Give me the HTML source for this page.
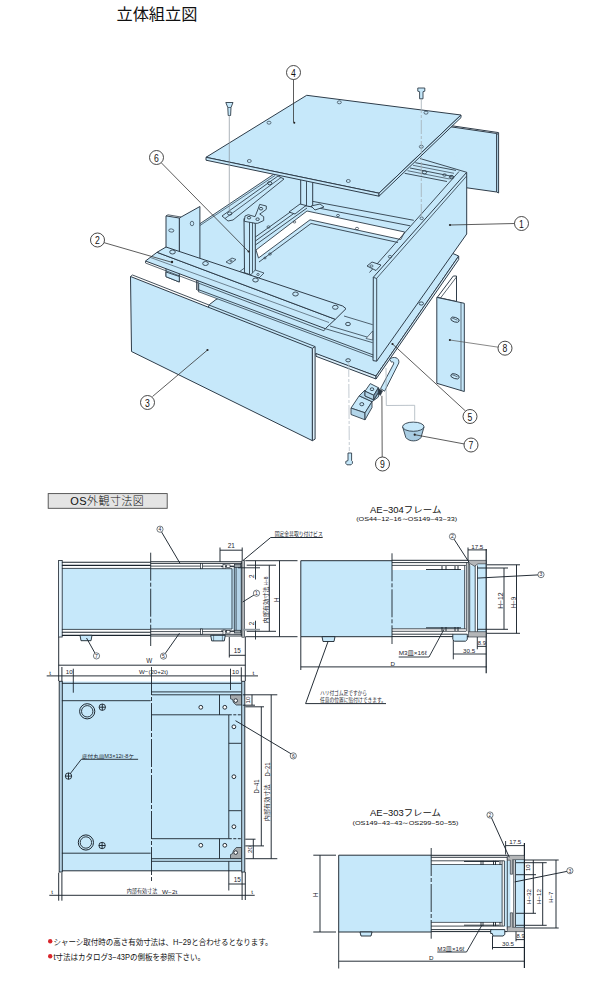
<!DOCTYPE html>
<html><head><meta charset="utf-8"><title>OS</title>
<style>
html,body{margin:0;padding:0;background:#fff}
body{width:600px;height:1000px;overflow:hidden;font-family:"Liberation Sans","Noto Sans CJK JP",sans-serif}
svg{display:block}
svg text{font-family:"Liberation Sans","Noto Sans CJK JP",sans-serif}
</style></head><body>
<svg width="600" height="1000" viewBox="0 0 600 1000">
<rect width="600" height="1000" fill="#fff"/>
<text x="116.5" y="19.5" font-size="16.2" text-anchor="start" fill="#111" >立体組立図</text>
<polygon points="415.0,121.6 496.7,133.5 496.7,192.0 415.0,180.5" fill="#c6e8fa" stroke="#2f3d4a" stroke-width="1.0" stroke-linejoin="round" />
<polygon points="496.7,133.5 498.6,134.6 498.6,193.0 496.7,192.0" fill="#c6e8fa" stroke="#2f3d4a" stroke-width="1.0" stroke-linejoin="round" />
<polyline points="450.0,126.7 452.0,125.8 498.6,132.6 498.6,134.6" fill="none" stroke="#2f3d4a" stroke-width="1.0" stroke-linejoin="round" />
<polygon points="216.0,299.5 300.0,260.0 440.0,248.0 458.7,256.0 376.0,376.0 230.0,323.0 205.0,314.0 209.5,304.5" fill="#c6e8fa" stroke="#2f3d4a" stroke-width="1.0" stroke-linejoin="round" />
<polygon points="316.0,353.5 376.0,376.0 376.0,379.0 316.0,356.3" fill="#dbeef9" stroke="#2f3d4a" stroke-width="1.0" stroke-linejoin="round" />
<polygon points="376.0,376.0 458.7,256.0 458.7,259.5 376.0,379.0" fill="#dbeef9" stroke="#2f3d4a" stroke-width="1.0" stroke-linejoin="round" />
<ellipse cx="421.3" cy="303.5" rx="2.2" ry="1.6" fill="none" stroke="#2f3d4a" stroke-width="0.9"/>
<polygon points="198.0,225.0 274.0,174.0 300.0,165.0 415.0,158.0 450.0,150.0 466.7,172.3 466.7,234.0 376.7,361.2 373.0,360.6 198.0,291.0" fill="#c6e8fa" stroke="none" stroke-width="1.0" stroke-linejoin="round" />
<polygon points="256.0,250.0 307.0,211.0 404.7,232.0 400.7,239.5 310.0,219.8 258.5,258.0" fill="#fff" stroke="#2f3d4a" stroke-width="0.9" stroke-linejoin="round" />
<polyline points="308.0,206.0 410.2,225.8" fill="none" stroke="#2f3d4a" stroke-width="0.9" stroke-linejoin="round" />
<polyline points="308.0,200.5 413.8,220.3" fill="none" stroke="#2f3d4a" stroke-width="0.9" stroke-linejoin="round" />
<polyline points="254.0,246.0 307.0,208.0" fill="none" stroke="#2f3d4a" stroke-width="0.9" stroke-linejoin="round" />
<polyline points="254.0,242.0 307.0,204.0" fill="none" stroke="#2f3d4a" stroke-width="0.9" stroke-linejoin="round" />
<polyline points="254.0,238.0 307.0,200.0" fill="none" stroke="#2f3d4a" stroke-width="0.9" stroke-linejoin="round" />
<polyline points="259.0,262.0 311.0,223.5 398.0,242.5" fill="none" stroke="#2f3d4a" stroke-width="0.9" stroke-linejoin="round" />
<polygon points="300.7,178.0 312.7,181.0 312.7,207.0 300.7,205.0" fill="#c6e8fa" stroke="#2f3d4a" stroke-width="1.0" stroke-linejoin="round" />
<polyline points="306.5,180.0 306.5,206.0" fill="none" stroke="#2f3d4a" stroke-width="0.9" stroke-linejoin="round" />
<polygon points="289.0,212.0 300.0,204.0 306.0,205.5 295.0,214.0" fill="#c6e8fa" stroke="#2f3d4a" stroke-width="0.9" stroke-linejoin="round" />
<polygon points="311.0,206.0 320.0,204.0 324.0,207.0 315.0,210.0" fill="#c6e8fa" stroke="#2f3d4a" stroke-width="0.9" stroke-linejoin="round" />
<polyline points="415.3,162.7 456.0,170.4" fill="none" stroke="#2f3d4a" stroke-width="0.9" stroke-linejoin="round" />
<polyline points="410.0,168.0 452.0,176.3" fill="none" stroke="#2f3d4a" stroke-width="0.9" stroke-linejoin="round" />
<polyline points="404.7,173.3 447.0,181.5" fill="none" stroke="#2f3d4a" stroke-width="0.9" stroke-linejoin="round" />
<polyline points="420.0,158.5 466.7,172.3" fill="none" stroke="#2f3d4a" stroke-width="0.9" stroke-linejoin="round" />
<ellipse cx="424.5" cy="172.3" rx="2.2" ry="1.6" fill="none" stroke="#2f3d4a" stroke-width="0.9"/>
<ellipse cx="451.5" cy="177.3" rx="2.2" ry="1.6" fill="none" stroke="#2f3d4a" stroke-width="0.9"/>
<polyline points="413.0,165.3 454.0,173.3" fill="none" stroke="#2f3d4a" stroke-width="0.7" stroke-linejoin="round" />
<polyline points="407.5,170.7 449.5,179.0" fill="none" stroke="#2f3d4a" stroke-width="0.7" stroke-linejoin="round" />
<polygon points="373.3,277.3 466.7,172.3 466.7,234.0 376.7,361.2 373.0,360.6" fill="#c6e8fa" stroke="#2f3d4a" stroke-width="1.0" stroke-linejoin="round" />
<polyline points="376.7,361.2 376.7,278.5 373.3,277.3" fill="none" stroke="#2f3d4a" stroke-width="0.9" stroke-linejoin="round" />
<polyline points="376.5,278.5 466.7,176.0" fill="none" stroke="#2f3d4a" stroke-width="0.8" stroke-linejoin="round" />
<polyline points="459.0,171.5 369.5,272.5" fill="none" stroke="#2f3d4a" stroke-width="0.9" stroke-linejoin="round" />
<polygon points="367.0,266.0 372.0,262.0 381.0,265.0 376.0,270.5" fill="#c6e8fa" stroke="#2f3d4a" stroke-width="0.9" stroke-linejoin="round" />
<ellipse cx="371.5" cy="266.0" rx="1.6" ry="1.1" fill="none" stroke="#2f3d4a" stroke-width="0.7"/>
<ellipse cx="451.7" cy="176.7" rx="1.7" ry="1.3" fill="none" stroke="#2f3d4a" stroke-width="0.7"/>
<ellipse cx="421.7" cy="218.3" rx="1.7" ry="1.3" fill="none" stroke="#2f3d4a" stroke-width="0.7"/>
<ellipse cx="390.0" cy="256.7" rx="1.7" ry="1.3" fill="none" stroke="#2f3d4a" stroke-width="0.7"/>
<ellipse cx="444.5" cy="175.0" rx="1.7" ry="1.3" fill="none" stroke="#2f3d4a" stroke-width="0.7"/>
<circle cx="450.0" cy="225.0" r="1.1" fill="#222" stroke="none" stroke-width="0.8"/>
<polyline points="450.0,225.0 515.0,223.5" fill="none" stroke="#333" stroke-width="0.8" stroke-linejoin="round" />
<polyline points="198.0,289.5 373.3,355.0" fill="none" stroke="#2f3d4a" stroke-width="0.9" stroke-linejoin="round" />
<polyline points="198.0,291.5 373.3,357.2" fill="none" stroke="#2f3d4a" stroke-width="0.8" stroke-linejoin="round" />
<polyline points="344.0,316.0 372.7,324.7" fill="none" stroke="#2f3d4a" stroke-width="0.8" stroke-linejoin="round" />
<polyline points="330.0,326.0 372.7,338.7" fill="none" stroke="#2f3d4a" stroke-width="0.8" stroke-linejoin="round" />
<polyline points="325.3,328.7 372.7,342.7" fill="none" stroke="#2f3d4a" stroke-width="0.8" stroke-linejoin="round" />
<ellipse cx="348.0" cy="324.0" rx="2.4" ry="1.7" fill="none" stroke="#2f3d4a" stroke-width="0.9"/>
<polygon points="366.0,338.5 372.7,331.0 372.7,340.0" fill="#dbeef9" stroke="#2f3d4a" stroke-width="0.7" stroke-linejoin="round" />
<polyline points="198.0,291.0 198.0,225.0 274.0,174.0" fill="none" stroke="#2f3d4a" stroke-width="0.9" stroke-linejoin="round" />
<polyline points="199.5,225.8 275.0,175.5" fill="none" stroke="#2f3d4a" stroke-width="0.7" stroke-linejoin="round" />
<polyline points="196.6,290.0 196.6,226.0" fill="none" stroke="#2f3d4a" stroke-width="0.9" stroke-linejoin="round" />
<polygon points="222.0,216.0 278.0,176.0 284.0,179.0 233.0,220.0 228.0,221.0" fill="#c6e8fa" stroke="#2f3d4a" stroke-width="0.9" stroke-linejoin="round" />
<polyline points="225.0,218.5 281.0,177.5" fill="none" stroke="#2f3d4a" stroke-width="0.8" stroke-linejoin="round" />
<ellipse cx="229.7" cy="213.5" rx="2.2" ry="1.6" fill="none" stroke="#2f3d4a" stroke-width="0.9"/>
<ellipse cx="269.7" cy="183.2" rx="2.2" ry="1.6" fill="none" stroke="#2f3d4a" stroke-width="0.9"/>
<polygon points="244.0,218.5 249.5,220.5 255.3,223.3 255.3,275.3 249.5,274.5 244.5,272.7" fill="#c6e8fa" stroke="#2f3d4a" stroke-width="1.0" stroke-linejoin="round" />
<polyline points="249.5,220.5 249.5,274.5" fill="none" stroke="#2f3d4a" stroke-width="0.9" stroke-linejoin="round" />
<polyline points="252.5,222.0 252.5,275.0" fill="none" stroke="#2f3d4a" stroke-width="0.8" stroke-linejoin="round" />
<polygon points="244.3,221.3 245.0,216.0 248.3,214.7 255.0,216.7 257.7,210.0 259.7,204.4 266.3,206.0 266.3,209.3 261.7,212.7 259.7,214.0 263.7,216.7 263.7,220.5 257.7,223.3 255.3,223.3" fill="#c6e8fa" stroke="#2f3d4a" stroke-width="0.9" stroke-linejoin="round" />
<ellipse cx="249.0" cy="217.7" rx="1.7" ry="1.3" fill="none" stroke="#2f3d4a" stroke-width="0.9"/>
<ellipse cx="261.0" cy="208.7" rx="1.7" ry="1.3" fill="none" stroke="#2f3d4a" stroke-width="0.9"/>
<ellipse cx="257.6" cy="219.2" rx="1.7" ry="1.3" fill="none" stroke="#2f3d4a" stroke-width="0.9"/>
<polygon points="239.0,272.0 244.5,268.0 244.5,272.7" fill="#c6e8fa" stroke="#2f3d4a" stroke-width="0.8" stroke-linejoin="round" />
<polygon points="255.3,270.0 264.0,273.0 259.0,278.0 250.0,275.5" fill="#c6e8fa" stroke="#2f3d4a" stroke-width="0.8" stroke-linejoin="round" />
<ellipse cx="258.0" cy="274.5" rx="1.3" ry="1" fill="none" stroke="#2f3d4a" stroke-width="0.7"/>
<polygon points="226.0,262.0 232.0,258.0 236.0,259.5 230.0,264.0" fill="#c6e8fa" stroke="#2f3d4a" stroke-width="0.8" stroke-linejoin="round" />
<ellipse cx="231.0" cy="261.0" rx="1.2" ry="0.9" fill="none" stroke="#2f3d4a" stroke-width="0.7"/>
<ellipse cx="270.0" cy="254.0" rx="1.4" ry="1.1" fill="none" stroke="#2f3d4a" stroke-width="0.7"/>
<ellipse cx="265.0" cy="258.0" rx="1.2" ry="0.9" fill="none" stroke="#2f3d4a" stroke-width="0.7"/>
<ellipse cx="268.5" cy="227.0" rx="1.5" ry="1.2" fill="none" stroke="#2f3d4a" stroke-width="0.7"/>
<ellipse cx="357.0" cy="228.5" rx="1.6" ry="1.2" fill="none" stroke="#2f3d4a" stroke-width="0.7"/>
<ellipse cx="338.0" cy="215.5" rx="1.5" ry="1.1" fill="none" stroke="#2f3d4a" stroke-width="0.7"/>
<ellipse cx="294.5" cy="222.0" rx="1.3" ry="1" fill="none" stroke="#2f3d4a" stroke-width="0.7"/>
<circle cx="248.5" cy="251.5" r="1.0" fill="#222" stroke="none" stroke-width="0.8"/>
<polygon points="179.3,218.0 199.9,206.5 199.9,262.0 179.3,256.0" fill="#c6e8fa" stroke="#2f3d4a" stroke-width="1.0" stroke-linejoin="round" />
<polygon points="166.0,215.9 179.3,218.0 179.3,282.0 166.0,276.7" fill="#c6e8fa" stroke="#2f3d4a" stroke-width="1.0" stroke-linejoin="round" />
<polyline points="166.0,215.9 168.0,214.8 181.0,217.0" fill="none" stroke="#2f3d4a" stroke-width="0.8" stroke-linejoin="round" />
<ellipse cx="171.3" cy="230.5" rx="2.6" ry="1.6" fill="none" stroke="#2f3d4a" stroke-width="0.7" transform="rotate(8 171.3 230.5)"/>
<ellipse cx="172.5" cy="251.5" rx="2.8" ry="2.0" fill="none" stroke="#2f3d4a" stroke-width="0.7" transform="rotate(20 172.5 251.5)"/>
<ellipse cx="192.0" cy="223.5" rx="1.7" ry="2.3" fill="none" stroke="#2f3d4a" stroke-width="0.7"/>
<polygon points="145.5,261.0 157.0,252.3 335.3,319.3 325.3,328.7" fill="#c6e8fa" stroke="#2f3d4a" stroke-width="1.0" stroke-linejoin="round" />
<polygon points="157.0,252.3 166.0,247.0 342.7,306.0 346.0,308.7 335.3,319.3" fill="#c6e8fa" stroke="#2f3d4a" stroke-width="1.0" stroke-linejoin="round" />
<polyline points="145.5,261.0 145.5,263.0 324.0,330.8 325.3,328.7" fill="none" stroke="#2f3d4a" stroke-width="0.8" stroke-linejoin="round" />
<polyline points="150.5,257.5 329.0,322.5" fill="none" stroke="#2f3d4a" stroke-width="0.6" stroke-linejoin="round" />
<ellipse cx="172.5" cy="252.0" rx="2.8" ry="2.0" fill="none" stroke="#2f3d4a" stroke-width="0.9"/>
<ellipse cx="205.5" cy="263.5" rx="2.8" ry="2.0" fill="none" stroke="#2f3d4a" stroke-width="0.9"/>
<ellipse cx="255.5" cy="280.0" rx="2.8" ry="2.0" fill="none" stroke="#2f3d4a" stroke-width="0.9"/>
<ellipse cx="295.5" cy="294.0" rx="2.8" ry="2.0" fill="none" stroke="#2f3d4a" stroke-width="0.9"/>
<ellipse cx="335.3" cy="307.3" rx="2.8" ry="2.0" fill="none" stroke="#2f3d4a" stroke-width="0.9"/>
<circle cx="172.0" cy="262.0" r="1.2" fill="#222" stroke="none" stroke-width="0.8"/>
<polyline points="198.7,284.0 198.7,291.5" fill="none" stroke="#2f3d4a" stroke-width="0.9" stroke-linejoin="round" />
<polygon points="166.0,272.0 179.3,276.5 179.3,282.0 166.0,276.7" fill="#c6e8fa" stroke="#2f3d4a" stroke-width="0.9" stroke-linejoin="round" />
<polygon points="206.0,157.3 306.7,95.3 461.0,115.0 379.0,193.2" fill="#c6e8fa" stroke="#2f3d4a" stroke-width="1.0" stroke-linejoin="round" />
<polygon points="206.0,157.3 379.0,193.2 379.0,196.2 206.0,160.2" fill="#c6e8fa" stroke="#2f3d4a" stroke-width="1.0" stroke-linejoin="round" />
<polygon points="379.0,193.2 461.0,115.0 461.0,117.6 379.0,196.2" fill="#c6e8fa" stroke="#2f3d4a" stroke-width="1.0" stroke-linejoin="round" />
<ellipse cx="339.3" cy="102.3" rx="2.0" ry="1.5" fill="none" stroke="#2f3d4a" stroke-width="0.7"/>
<ellipse cx="269.0" cy="122.7" rx="2.0" ry="1.5" fill="none" stroke="#2f3d4a" stroke-width="0.7"/>
<ellipse cx="249.3" cy="161.0" rx="2.0" ry="1.5" fill="none" stroke="#2f3d4a" stroke-width="0.7"/>
<ellipse cx="348.3" cy="181.0" rx="2.0" ry="1.5" fill="none" stroke="#2f3d4a" stroke-width="0.7"/>
<ellipse cx="426.0" cy="112.7" rx="2.0" ry="1.5" fill="none" stroke="#2f3d4a" stroke-width="0.7"/>
<ellipse cx="421.3" cy="146.7" rx="2.0" ry="1.5" fill="none" stroke="#2f3d4a" stroke-width="0.7"/>
<circle cx="294.3" cy="122.7" r="1.0" fill="#222" stroke="none" stroke-width="0.8"/>
<polygon points="130.5,276.5 312.4,348.3 312.4,440.7 131.5,351.5" fill="#c6e8fa" stroke="#2f3d4a" stroke-width="1.0" stroke-linejoin="round" />
<polygon points="312.4,348.3 315.1,346.6 315.1,439.1 312.4,440.7" fill="#dbeef9" stroke="#2f3d4a" stroke-width="1.0" stroke-linejoin="round" />
<polyline points="130.5,276.5 132.5,275.0 315.1,346.6" fill="none" stroke="#2f3d4a" stroke-width="0.9" stroke-linejoin="round" />
<circle cx="207.5" cy="350.0" r="1.1" fill="#222" stroke="none" stroke-width="0.8"/>
<polygon points="437.3,297.3 453.3,276.0 456.5,276.0 456.5,301.5" fill="#fff" stroke="#2f3d4a" stroke-width="1.0" stroke-linejoin="round" />
<polyline points="440.5,298.0 456.5,277.0" fill="none" stroke="#2f3d4a" stroke-width="0.8" stroke-linejoin="round" />
<polygon points="436.8,297.4 464.3,303.3 464.3,391.5 436.8,383.3" fill="#c6e8fa" stroke="#2f3d4a" stroke-width="1.0" stroke-linejoin="round" />
<polyline points="461.0,302.8 461.0,390.5" fill="none" stroke="#2f3d4a" stroke-width="0.7" stroke-linejoin="round" />
<ellipse cx="455.0" cy="319.7" rx="4.4" ry="2.3" fill="none" stroke="#2f3d4a" stroke-width="0.9" transform="rotate(18 455.0 319.7)"/>
<ellipse cx="455.0" cy="376.3" rx="4.4" ry="2.3" fill="none" stroke="#2f3d4a" stroke-width="0.9" transform="rotate(18 455.0 376.3)"/>
<polyline points="452.0,318.0 457.5,320.2" fill="none" stroke="#2f3d4a" stroke-width="0.7" stroke-linejoin="round" />
<polyline points="452.0,374.6 457.5,376.8" fill="none" stroke="#2f3d4a" stroke-width="0.7" stroke-linejoin="round" />
<circle cx="449.9" cy="340.0" r="1.1" fill="#222" stroke="none" stroke-width="0.8"/>
<polyline points="449.9,340.0 498.3,347.2" fill="none" stroke="#555" stroke-width="0.7" stroke-linejoin="round" />
<path d="M389.5,359.2 C393.5,355.8 399.8,357.5 398.8,363 L384.6,391.2 L380.6,388.6 L393.6,364 C394.2,362.2 393,361.3 391.5,362.2 Z" fill="#c6e8fa" stroke="#2f3d4a" stroke-width="0.9"/>
<polygon points="351.0,408.1 359.2,395.8 372.0,401.7 365.0,412.8" fill="#c6e8fa" stroke="#2f3d4a" stroke-width="0.9" stroke-linejoin="round" />
<polygon points="351.0,408.1 365.0,412.8 365.0,419.8 351.0,414.5" fill="#b3d6ea" stroke="#2f3d4a" stroke-width="0.9" stroke-linejoin="round" />
<polygon points="365.0,412.8 372.0,401.7 372.0,407.5 365.0,419.8" fill="#b3d6ea" stroke="#2f3d4a" stroke-width="0.9" stroke-linejoin="round" />
<polygon points="359.2,395.8 365.0,390.0 365.0,396.0 373.8,399.8 378.4,392.5 378.4,397.0 372.0,401.7" fill="#b3d6ea" stroke="#2f3d4a" stroke-width="0.9" stroke-linejoin="round" />
<polygon points="365.0,391.2 370.3,383.6 378.4,387.7 373.8,395.3" fill="#c6e8fa" stroke="#2f3d4a" stroke-width="0.9" stroke-linejoin="round" />
<polygon points="365.0,391.2 373.8,395.3 373.8,399.8 365.0,396.0" fill="#b3d6ea" stroke="#2f3d4a" stroke-width="0.9" stroke-linejoin="round" />
<polygon points="373.8,395.3 378.4,387.7 378.4,392.5 373.8,399.8" fill="#7d9cb2" stroke="#2f3d4a" stroke-width="0.9" stroke-linejoin="round" />
<polygon points="378.6,388.5 382.6,391.0 380.3,395.5 378.4,394.0" fill="#2b3843" stroke="#2f3d4a" stroke-width="0.6" stroke-linejoin="round" />
<ellipse cx="361.8" cy="404.2" rx="2.0" ry="1.6" fill="none" stroke="#2f3d4a" stroke-width="0.9"/>
<ellipse cx="372.0" cy="389.2" rx="1.8" ry="1.4" fill="none" stroke="#2f3d4a" stroke-width="0.9"/>
<polyline points="348.7,363.0 349.3,451.0" fill="none" stroke="#b4bec6" stroke-width="0.8" stroke-linejoin="round" stroke-dasharray="14 2 3 2"/>
<polygon points="348.0,453.0 351.6,453.0 351.6,460.6 352.4,461.4 352.4,463.4 351.0,464.8 347.0,464.8 345.8,463.4 345.8,461.4 348.0,460.6" fill="#c6e8fa" stroke="#2f3d4a" stroke-width="0.9" stroke-linejoin="round" />
<ellipse cx="348.1" cy="360.3" rx="2.3" ry="1.6" fill="none" stroke="#2f3d4a" stroke-width="0.9"/>
<path d="M402.7,427 L405.8,437.5 C409,442 418,442 421,437.5 L424,427 Z" fill="#a9cde3" stroke="#2f3d4a" stroke-width="0.9"/>
<ellipse cx="413.3" cy="426.7" rx="10.7" ry="4.6" fill="#c6e8fa" stroke="#2f3d4a" stroke-width="0.9"/>
<circle cx="414.7" cy="434.7" r="1.1" fill="#222" stroke="none" stroke-width="0.8"/>
<polyline points="386.0,368.0 386.3,405.5 414.7,405.3 414.7,420.5" fill="none" stroke="#a9b4bd" stroke-width="0.8" stroke-linejoin="round" />
<polyline points="414.7,434.7 464.5,444.0" fill="none" stroke="#333" stroke-width="0.8" stroke-linejoin="round" />
<polygon points="225.8,102.5 233.0,102.5 231.0,107.5 230.6,115.5 228.2,115.5 227.8,107.5" fill="#c6e8fa" stroke="#2f3d4a" stroke-width="0.9" stroke-linejoin="round" />
<polyline points="227.8,107.5 231.0,107.5" fill="none" stroke="#2f3d4a" stroke-width="0.7" stroke-linejoin="round" />
<polyline points="229.3,115.0 229.3,212.0" fill="none" stroke="#8a949c" stroke-width="0.7" stroke-linejoin="round" />
<polygon points="417.8,88.0 424.8,88.0 424.8,91.2 423.0,91.7 423.0,98.8 419.6,98.8 419.6,91.7 417.8,91.2" fill="#c6e8fa" stroke="#2f3d4a" stroke-width="0.9" stroke-linejoin="round" />
<polyline points="421.3,99.0 421.3,217.0" fill="none" stroke="#a3aeb7" stroke-width="0.8" stroke-linejoin="round" stroke-dasharray="14 2 3 2"/>
<polyline points="293.5,79.0 293.5,122.5" fill="none" stroke="#333" stroke-width="0.8" stroke-linejoin="round" />
<polyline points="161.0,162.5 248.5,251.5" fill="none" stroke="#333" stroke-width="0.8" stroke-linejoin="round" />
<polyline points="103.5,242.5 172.5,262.5" fill="none" stroke="#333" stroke-width="0.8" stroke-linejoin="round" />
<polyline points="152.5,396.5 207.5,350.0" fill="none" stroke="#333" stroke-width="0.8" stroke-linejoin="round" />
<circle cx="392.5" cy="344.0" r="1.1" fill="#222" stroke="none" stroke-width="0.8"/>
<polyline points="392.5,344.0 465.5,411.0" fill="none" stroke="#333" stroke-width="0.8" stroke-linejoin="round" />
<polyline points="382.2,457.0 381.9,395.8" fill="none" stroke="#333" stroke-width="0.8" stroke-linejoin="round" />
<circle cx="293.5" cy="72.5" r="7" fill="#fff" stroke="#333" stroke-width="0.9"/>
<text x="293.5" y="76.5" font-size="11" text-anchor="middle" fill="#111" textLength="4.8" lengthAdjust="spacingAndGlyphs">4</text>
<circle cx="156.5" cy="157.5" r="7" fill="#fff" stroke="#333" stroke-width="0.9"/>
<text x="156.5" y="161.5" font-size="11" text-anchor="middle" fill="#111" textLength="4.8" lengthAdjust="spacingAndGlyphs">6</text>
<circle cx="97.5" cy="240.0" r="7" fill="#fff" stroke="#333" stroke-width="0.9"/>
<text x="97.5" y="244.0" font-size="11" text-anchor="middle" fill="#111" textLength="4.8" lengthAdjust="spacingAndGlyphs">2</text>
<circle cx="147.5" cy="402.5" r="7" fill="#fff" stroke="#333" stroke-width="0.9"/>
<text x="147.5" y="406.5" font-size="11" text-anchor="middle" fill="#111" textLength="4.8" lengthAdjust="spacingAndGlyphs">3</text>
<circle cx="521.5" cy="223.5" r="7" fill="#fff" stroke="#333" stroke-width="0.9"/>
<text x="521.5" y="227.5" font-size="11" text-anchor="middle" fill="#111" textLength="4.8" lengthAdjust="spacingAndGlyphs">1</text>
<circle cx="505.0" cy="348.2" r="7" fill="#fff" stroke="#333" stroke-width="0.9"/>
<text x="505.0" y="352.2" font-size="11" text-anchor="middle" fill="#111" textLength="4.8" lengthAdjust="spacingAndGlyphs">8</text>
<circle cx="470.0" cy="416.5" r="7" fill="#fff" stroke="#333" stroke-width="0.9"/>
<text x="470.0" y="420.5" font-size="11" text-anchor="middle" fill="#111" textLength="4.8" lengthAdjust="spacingAndGlyphs">5</text>
<circle cx="471.0" cy="445.0" r="7" fill="#fff" stroke="#333" stroke-width="0.9"/>
<text x="471.0" y="449.0" font-size="11" text-anchor="middle" fill="#111" textLength="4.8" lengthAdjust="spacingAndGlyphs">7</text>
<circle cx="382.5" cy="464.0" r="7" fill="#fff" stroke="#333" stroke-width="0.9"/>
<text x="382.5" y="468.0" font-size="11" text-anchor="middle" fill="#111" textLength="4.8" lengthAdjust="spacingAndGlyphs">9</text>
<rect x="48.2" y="493.6" width="119.0" height="14.7" fill="#e4e4e4" stroke="#4a4a4a" stroke-width="0.9"/>
<text x="107.0" y="505.0" font-size="11" text-anchor="middle" fill="#111" textLength="73.5" lengthAdjust="spacing" font-weight="300">OS外観寸法図</text>
<rect x="61.9" y="568.4" width="172.8" height="61.0" fill="#c6e8fa" stroke="none" stroke-width="0.8"/>
<rect x="234.3" y="566.0" width="7.0" height="66.0" fill="#b4d4e8" stroke="none" stroke-width="0.8"/>
<rect x="58.6" y="560.4" width="3.6" height="76.6" fill="#e2f1fa" stroke="#1a242d" stroke-width="0.8"/>
<rect x="241.9" y="560.4" width="2.6" height="76.8" fill="#b4b8bb" stroke="#1a242d" stroke-width="0.6"/>
<polyline points="61.9,562.3 150.7,562.3" fill="none" stroke="#1a242d" stroke-width="1.1" stroke-linejoin="round" />
<polyline points="61.9,565.4 150.7,565.4" fill="none" stroke="#1a242d" stroke-width="1.1" stroke-linejoin="round" />
<polyline points="61.9,568.4 150.7,568.4" fill="none" stroke="#1a242d" stroke-width="0.8" stroke-linejoin="round" />
<polyline points="61.9,635.4 150.7,635.4" fill="none" stroke="#1a242d" stroke-width="1.1" stroke-linejoin="round" />
<polyline points="61.9,632.3 150.7,632.3" fill="none" stroke="#1a242d" stroke-width="1.1" stroke-linejoin="round" />
<polyline points="61.9,629.4 150.7,629.4" fill="none" stroke="#1a242d" stroke-width="0.8" stroke-linejoin="round" />
<polyline points="150.7,561.7 241.9,561.7" fill="none" stroke="#1a242d" stroke-width="0.9" stroke-linejoin="round" />
<polyline points="150.7,563.4 241.9,563.4" fill="none" stroke="#1a242d" stroke-width="0.9" stroke-linejoin="round" />
<polyline points="150.7,566.1 241.3,566.1" fill="none" stroke="#1a242d" stroke-width="0.8" stroke-linejoin="round" />
<polyline points="150.7,568.7 232.0,568.7" fill="none" stroke="#1a242d" stroke-width="0.8" stroke-linejoin="round" />
<polyline points="150.7,636.0 241.9,636.0" fill="none" stroke="#1a242d" stroke-width="0.9" stroke-linejoin="round" />
<polyline points="150.7,634.3 241.9,634.3" fill="none" stroke="#1a242d" stroke-width="0.9" stroke-linejoin="round" />
<polyline points="150.7,631.6 241.3,631.6" fill="none" stroke="#1a242d" stroke-width="0.8" stroke-linejoin="round" />
<polyline points="150.7,629.0 232.0,629.0" fill="none" stroke="#1a242d" stroke-width="0.8" stroke-linejoin="round" />
<polyline points="232.0,568.7 232.0,629.0" fill="none" stroke="#1a242d" stroke-width="0.8" stroke-linejoin="round" />
<polyline points="234.3,566.1 234.3,631.6" fill="none" stroke="#1a242d" stroke-width="0.8" stroke-linejoin="round" />
<polyline points="236.1,566.1 236.1,631.6" fill="none" stroke="#1a242d" stroke-width="0.7" stroke-linejoin="round" />
<polyline points="241.3,561.7 241.3,636.0" fill="none" stroke="#1a242d" stroke-width="0.8" stroke-linejoin="round" />
<rect x="200.5" y="563.4" width="1.9" height="5.3" fill="#fff" stroke="#1a242d" stroke-width="0.7"/>
<polyline points="221.0,566.6 241.0,566.6" fill="none" stroke="#1a242d" stroke-width="0.9" stroke-linejoin="round" />
<rect x="223.0" y="564.4" width="2.2" height="4.3" fill="#fff" stroke="#1a242d" stroke-width="0.6"/>
<rect x="226.5" y="564.9" width="3.5" height="2.6" fill="#fff" stroke="#1a242d" stroke-width="0.6"/>
<rect x="234.3" y="564.6" width="6.5" height="2.8" fill="#9aa3a8" stroke="#1a242d" stroke-width="0.6"/>
<rect x="200.5" y="629.0" width="1.9" height="5.3" fill="#fff" stroke="#1a242d" stroke-width="0.7"/>
<polyline points="221.0,631.0 241.0,631.0" fill="none" stroke="#1a242d" stroke-width="0.9" stroke-linejoin="round" />
<rect x="223.0" y="630.0" width="2.2" height="4.3" fill="#fff" stroke="#1a242d" stroke-width="0.6"/>
<rect x="226.5" y="630.5" width="3.5" height="2.6" fill="#fff" stroke="#1a242d" stroke-width="0.6"/>
<rect x="234.3" y="630.2" width="6.5" height="2.8" fill="#9aa3a8" stroke="#1a242d" stroke-width="0.6"/>
<polygon points="80.0,635.3 92.0,635.3 91.0,640.7 81.0,640.7" fill="#c6e8fa" stroke="#1a242d" stroke-width="0.9" stroke-linejoin="round" />
<polygon points="210.7,635.3 225.3,635.3 224.3,640.9 211.7,640.9" fill="#c6e8fa" stroke="#1a242d" stroke-width="0.9" stroke-linejoin="round" />
<polyline points="213.6,635.3 213.6,640.9" fill="none" stroke="#1a242d" stroke-width="0.5" stroke-linejoin="round" />
<polyline points="222.4,635.3 222.4,640.9" fill="none" stroke="#1a242d" stroke-width="0.5" stroke-linejoin="round" />
<polyline points="150.7,552.7 150.7,646.0" fill="none" stroke="#1a242d" stroke-width="0.9" stroke-linejoin="round" stroke-dasharray="28 2 4 2"/>
<polyline points="220.0,547.5 220.0,562.0" fill="none" stroke="#1a242d" stroke-width="0.95" stroke-linejoin="round" />
<polyline points="242.2,547.5 242.2,560.0" fill="none" stroke="#1a242d" stroke-width="0.95" stroke-linejoin="round" />
<polyline points="220.0,550.2 242.2,550.2" fill="none" stroke="#1a242d" stroke-width="0.95" stroke-linejoin="round" />
<text x="231.2" y="548.2" font-size="6.4" text-anchor="middle" fill="#1a242d" >21</text>
<polyline points="229.3,637.0 229.3,657.5" fill="none" stroke="#1a242d" stroke-width="0.95" stroke-linejoin="round" />
<polyline points="245.3,637.0 245.3,667.0" fill="none" stroke="#1a242d" stroke-width="0.95" stroke-linejoin="round" />
<polyline points="229.3,655.3 245.3,655.3" fill="none" stroke="#1a242d" stroke-width="0.95" stroke-linejoin="round" />
<text x="237.3" y="653.4" font-size="6.4" text-anchor="middle" fill="#1a242d" >15</text>
<polyline points="243.0,560.5 270.7,537.5 322.7,537.5" fill="none" stroke="#1a242d" stroke-width="0.95" stroke-linejoin="round" />
<text x="274.7" y="536.4" font-size="5.4" text-anchor="start" fill="#1a242d" textLength="48" lengthAdjust="spacingAndGlyphs">固定金具取り付けビス</text>
<polyline points="245.3,560.7 297.5,560.7" fill="none" stroke="#1a242d" stroke-width="0.95" stroke-linejoin="round" />
<polyline points="245.3,636.7 297.5,636.7" fill="none" stroke="#1a242d" stroke-width="0.95" stroke-linejoin="round" />
<polyline points="279.5,560.7 279.5,636.7" fill="none" stroke="#1a242d" stroke-width="0.95" stroke-linejoin="round" />
<text x="278.8" y="599.7" font-size="6.3" text-anchor="middle" fill="#1a242d" transform="rotate(-90 278.8 599.7)" >H</text>
<polyline points="246.7,565.2 276.0,565.2" fill="none" stroke="#1a242d" stroke-width="0.95" stroke-linejoin="round" />
<polyline points="246.7,631.3 276.0,631.3" fill="none" stroke="#1a242d" stroke-width="0.95" stroke-linejoin="round" />
<polyline points="269.3,565.2 269.3,631.3" fill="none" stroke="#1a242d" stroke-width="0.95" stroke-linejoin="round" />
<text x="268.3" y="605.0" font-size="6" text-anchor="middle" fill="#1a242d" transform="rotate(-90 268.3 605.0)" textLength="37" lengthAdjust="spacingAndGlyphs">内部有効寸法</text>
<text x="268.3" y="581.0" font-size="6" text-anchor="middle" fill="#1a242d" transform="rotate(-90 268.3 581.0)" textLength="9" lengthAdjust="spacingAndGlyphs">H−8</text>
<polyline points="255.5,560.7 255.5,579.5" fill="none" stroke="#1a242d" stroke-width="0.9" stroke-linejoin="round" />
<polyline points="255.5,620.7 255.5,639.5" fill="none" stroke="#1a242d" stroke-width="0.9" stroke-linejoin="round" />
<polyline points="238.0,567.8 260.0,567.8" fill="none" stroke="#1a242d" stroke-width="0.9" stroke-linejoin="round" />
<polyline points="242.7,629.7 260.0,629.7" fill="none" stroke="#8e989f" stroke-width="1.8" stroke-linejoin="round" />
<text x="253.6" y="576.2" font-size="6.3" text-anchor="middle" fill="#1a242d" transform="rotate(-90 253.6 576.2)" >2</text>
<text x="253.6" y="623.5" font-size="6.3" text-anchor="middle" fill="#1a242d" transform="rotate(-90 253.6 623.5)" >2</text>
<polyline points="242.7,602.0 254.3,594.8" fill="none" stroke="#1a242d" stroke-width="0.9" stroke-linejoin="round" />
<circle cx="256.5" cy="593.2" r="3.1" fill="#fff" stroke="#3a444c" stroke-width="0.7"/>
<text x="256.5" y="595.0" font-size="5" text-anchor="middle" fill="#1a242d" >1</text>
<polyline points="161.3,531.6 180.0,563.3" fill="none" stroke="#1a242d" stroke-width="0.95" stroke-linejoin="round" />
<circle cx="160.0" cy="529.2" r="3.1" fill="#fff" stroke="#3a444c" stroke-width="0.7"/>
<text x="160.0" y="531.0" font-size="5" text-anchor="middle" fill="#1a242d" >4</text>
<polyline points="165.0,653.8 179.5,633.2" fill="none" stroke="#1a242d" stroke-width="0.95" stroke-linejoin="round" />
<circle cx="163.5" cy="656.1" r="3.1" fill="#fff" stroke="#3a444c" stroke-width="0.7"/>
<text x="163.5" y="657.9" font-size="5" text-anchor="middle" fill="#1a242d" >5</text>
<polyline points="86.5,638.0 95.2,653.5" fill="none" stroke="#1a242d" stroke-width="0.95" stroke-linejoin="round" />
<circle cx="96.5" cy="655.9" r="3.1" fill="#fff" stroke="#3a444c" stroke-width="0.7"/>
<text x="96.5" y="657.7" font-size="5" text-anchor="middle" fill="#1a242d" >7</text>
<polyline points="58.7,637.0 58.7,681.0" fill="none" stroke="#1a242d" stroke-width="0.95" stroke-linejoin="round" />
<polyline points="61.9,667.0 61.9,681.0" fill="none" stroke="#1a242d" stroke-width="0.95" stroke-linejoin="round" />
<polyline points="58.7,665.2 245.3,665.2" fill="none" stroke="#1a242d" stroke-width="0.95" stroke-linejoin="round" />
<text x="149.3" y="663.4" font-size="6.3" text-anchor="middle" fill="#1a242d" >W</text>
<polyline points="46.7,675.9 258.0,675.9" fill="none" stroke="#1a242d" stroke-width="0.95" stroke-linejoin="round" />
<text x="153.5" y="674.2" font-size="6.2" text-anchor="middle" fill="#1a242d" textLength="29" lengthAdjust="spacingAndGlyphs">W−(20+2t)</text>
<text x="50.0" y="675.2" font-size="6.2" text-anchor="middle" fill="#1a242d" >t</text>
<text x="253.3" y="674.5" font-size="6.2" text-anchor="middle" fill="#1a242d" >t</text>
<text x="69.3" y="673.8" font-size="6.2" text-anchor="middle" fill="#1a242d" >10</text>
<text x="235.5" y="673.8" font-size="6.2" text-anchor="middle" fill="#1a242d" >10</text>
<polyline points="241.3,667.3 241.3,681.0" fill="none" stroke="#1a242d" stroke-width="0.95" stroke-linejoin="round" />
<polyline points="245.3,667.0 245.3,681.0" fill="none" stroke="#1a242d" stroke-width="0.95" stroke-linejoin="round" />
<rect x="61.9" y="681.5" width="89.6" height="189.3" fill="#c6e8fa" stroke="none" stroke-width="0.8"/>
<rect x="151.5" y="681.5" width="89.8" height="189.3" fill="#c6e8fa" stroke="none" stroke-width="0.8"/>
<rect x="59.2" y="681.3" width="3.1" height="190.7" fill="#b4d0e2" stroke="#1a242d" stroke-width="0.9"/>
<rect x="241.7" y="681.3" width="3.1" height="190.7" fill="#b4d0e2" stroke="#1a242d" stroke-width="0.9"/>
<polyline points="61.9,683.3 241.3,683.3" fill="none" stroke="#1a242d" stroke-width="0.95" stroke-linejoin="round" />
<polyline points="61.9,870.8 241.3,870.8" fill="none" stroke="#1a242d" stroke-width="0.95" stroke-linejoin="round" />
<polyline points="61.9,700.7 150.7,700.7" fill="none" stroke="#1a242d" stroke-width="0.9" stroke-linejoin="round" />
<polyline points="61.9,853.2 150.7,853.2" fill="none" stroke="#1a242d" stroke-width="0.9" stroke-linejoin="round" />
<polyline points="151.5,691.9 241.3,691.9" fill="none" stroke="#1a242d" stroke-width="0.9" stroke-linejoin="round" />
<polyline points="151.5,694.8 241.3,694.8" fill="none" stroke="#1a242d" stroke-width="0.9" stroke-linejoin="round" />
<polyline points="151.5,714.8 228.8,714.8" fill="none" stroke="#1a242d" stroke-width="0.9" stroke-linejoin="round" />
<polyline points="151.5,838.7 228.8,838.7" fill="none" stroke="#1a242d" stroke-width="0.9" stroke-linejoin="round" />
<polyline points="151.5,858.7 241.3,858.7" fill="none" stroke="#1a242d" stroke-width="0.9" stroke-linejoin="round" />
<polyline points="151.5,861.3 241.3,861.3" fill="none" stroke="#1a242d" stroke-width="0.9" stroke-linejoin="round" />
<polyline points="219.5,694.8 219.5,714.8" fill="none" stroke="#1a242d" stroke-width="0.9" stroke-linejoin="round" />
<polyline points="219.5,838.7 219.5,858.7" fill="none" stroke="#1a242d" stroke-width="0.9" stroke-linejoin="round" />
<polyline points="228.8,714.8 228.8,838.7" fill="none" stroke="#1a242d" stroke-width="0.9" stroke-linejoin="round" />
<polyline points="228.8,743.3 241.3,743.3" fill="none" stroke="#1a242d" stroke-width="0.9" stroke-linejoin="round" />
<polyline points="228.8,810.7 241.3,810.7" fill="none" stroke="#1a242d" stroke-width="0.9" stroke-linejoin="round" />
<polyline points="228.8,714.8 241.3,714.8" fill="none" stroke="#1a242d" stroke-width="0.95" stroke-linejoin="round" stroke-dasharray="3 1.5"/>
<polyline points="228.8,838.7 241.3,838.7" fill="none" stroke="#1a242d" stroke-width="0.95" stroke-linejoin="round" stroke-dasharray="3 1.5"/>
<path d="M230.5,695 H241.5 V705 H236.3 L233.5,702.6 L232.5,699.5 L230.5,698.8 Z" fill="#a6abae" stroke="#1a242d" stroke-width="0.7"/>
<path d="M230.5,858.5 H241.5 V847.5 H236.3 L233.5,850.5 L232.5,853.6 L230.5,854.6 Z" fill="#a6abae" stroke="#1a242d" stroke-width="0.7"/>
<circle cx="235.7" cy="700.6" r="1.8" fill="#fff" stroke="#1a242d" stroke-width="0.9"/>
<circle cx="235.7" cy="852.6" r="1.8" fill="#fff" stroke="#1a242d" stroke-width="0.9"/>
<circle cx="200.8" cy="707.3" r="1.9" fill="#fff" stroke="#1a242d" stroke-width="0.95"/>
<circle cx="224.8" cy="707.3" r="1.9" fill="#fff" stroke="#1a242d" stroke-width="0.95"/>
<circle cx="233.9" cy="726.8" r="1.9" fill="#fff" stroke="#1a242d" stroke-width="0.95"/>
<circle cx="233.9" cy="776.7" r="1.9" fill="#fff" stroke="#1a242d" stroke-width="0.95"/>
<circle cx="233.9" cy="826.7" r="1.9" fill="#fff" stroke="#1a242d" stroke-width="0.95"/>
<circle cx="200.8" cy="845.3" r="1.9" fill="#fff" stroke="#1a242d" stroke-width="0.95"/>
<circle cx="224.8" cy="845.3" r="1.9" fill="#fff" stroke="#1a242d" stroke-width="0.95"/>
<polyline points="73.3,668.7 73.3,692.7" fill="none" stroke="#1a242d" stroke-width="0.9" stroke-linejoin="round" />
<polyline points="230.5,668.7 230.5,690.0" fill="none" stroke="#1a242d" stroke-width="0.9" stroke-linejoin="round" />
<circle cx="87.2" cy="711.3" r="7.6" fill="none" stroke="#1a242d" stroke-width="1.0"/>
<circle cx="87.2" cy="711.3" r="5.7" fill="none" stroke="#1a242d" stroke-width="0.9"/>
<circle cx="85.9" cy="842.5" r="7.6" fill="none" stroke="#1a242d" stroke-width="1.0"/>
<circle cx="85.9" cy="842.5" r="5.7" fill="none" stroke="#1a242d" stroke-width="0.9"/>
<circle cx="102.3" cy="707.2" r="3.2" fill="none" stroke="#1a242d" stroke-width="0.9"/>
<polyline points="99.1,707.2 105.5,707.2" fill="none" stroke="#1a242d" stroke-width="0.95" stroke-linejoin="round" />
<polyline points="102.3,704.0 102.3,710.4" fill="none" stroke="#1a242d" stroke-width="0.95" stroke-linejoin="round" />
<circle cx="102.1" cy="845.5" r="3.2" fill="none" stroke="#1a242d" stroke-width="0.9"/>
<polyline points="98.9,845.5 105.3,845.5" fill="none" stroke="#1a242d" stroke-width="0.95" stroke-linejoin="round" />
<polyline points="102.1,842.3 102.1,848.7" fill="none" stroke="#1a242d" stroke-width="0.95" stroke-linejoin="round" />
<circle cx="68.5" cy="776.1" r="3.2" fill="none" stroke="#1a242d" stroke-width="0.9"/>
<polyline points="65.3,776.1 71.7,776.1" fill="none" stroke="#1a242d" stroke-width="0.95" stroke-linejoin="round" />
<polyline points="68.5,772.9 68.5,779.3" fill="none" stroke="#1a242d" stroke-width="0.95" stroke-linejoin="round" />
<polyline points="70.3,773.6 81.3,759.3 138.1,759.3" fill="none" stroke="#1a242d" stroke-width="0.9" stroke-linejoin="round" />
<text x="82.0" y="757.5" font-size="5" text-anchor="start" fill="#1a242d" textLength="52" lengthAdjust="spacingAndGlyphs">底付丸皿M3×12ℓ‐8ケ</text>
<polyline points="151.5,667.0 151.5,881.0" fill="none" stroke="#1a242d" stroke-width="0.9" stroke-linejoin="round" stroke-dasharray="28 2 4 2"/>
<polyline points="242.7,694.8 277.3,694.8" fill="none" stroke="#1a242d" stroke-width="0.95" stroke-linejoin="round" />
<polyline points="242.7,705.2 255.0,705.2" fill="none" stroke="#1a242d" stroke-width="0.95" stroke-linejoin="round" />
<polyline points="252.0,694.8 252.0,705.2" fill="none" stroke="#1a242d" stroke-width="0.95" stroke-linejoin="round" />
<text x="250.2" y="700.1" font-size="6.2" text-anchor="middle" fill="#1a242d" transform="rotate(-90 250.2 700.1)" >10</text>
<polyline points="245.3,706.8 264.0,706.8" fill="none" stroke="#1a242d" stroke-width="0.95" stroke-linejoin="round" />
<polyline points="245.3,845.9 264.0,845.9" fill="none" stroke="#1a242d" stroke-width="0.95" stroke-linejoin="round" />
<polyline points="261.3,706.8 261.3,845.9" fill="none" stroke="#1a242d" stroke-width="0.95" stroke-linejoin="round" />
<text x="258.8" y="786.5" font-size="6.3" text-anchor="middle" fill="#1a242d" transform="rotate(-90 258.8 786.5)" textLength="14" lengthAdjust="spacingAndGlyphs">D−41</text>
<polyline points="245.3,858.7 277.3,858.7" fill="none" stroke="#1a242d" stroke-width="0.95" stroke-linejoin="round" />
<polyline points="271.2,694.8 271.2,858.7" fill="none" stroke="#1a242d" stroke-width="0.95" stroke-linejoin="round" />
<text x="269.5" y="769.5" font-size="6.3" text-anchor="middle" fill="#1a242d" transform="rotate(-90 269.5 769.5)" textLength="14" lengthAdjust="spacingAndGlyphs">D−21</text>
<text x="269.4" y="802.7" font-size="6" text-anchor="middle" fill="#1a242d" transform="rotate(-90 269.4 802.7)" textLength="37" lengthAdjust="spacingAndGlyphs">内部有効寸法</text>
<polyline points="253.3,839.2 253.3,858.7" fill="none" stroke="#1a242d" stroke-width="0.95" stroke-linejoin="round" />
<polyline points="245.3,839.2 255.5,839.2" fill="none" stroke="#1a242d" stroke-width="0.95" stroke-linejoin="round" />
<text x="252.2" y="849.5" font-size="6.2" text-anchor="middle" fill="#1a242d" transform="rotate(-90 252.2 849.5)" >20</text>
<polyline points="235.5,720.7 291.2,753.9" fill="none" stroke="#1a242d" stroke-width="0.95" stroke-linejoin="round" />
<circle cx="293.3" cy="755.9" r="3.1" fill="#fff" stroke="#3a444c" stroke-width="0.7"/>
<text x="293.3" y="757.7" font-size="5" text-anchor="middle" fill="#1a242d" >6</text>
<polyline points="58.7,872.7 58.7,900.7" fill="none" stroke="#1a242d" stroke-width="0.95" stroke-linejoin="round" />
<polyline points="61.9,872.7 61.9,900.7" fill="none" stroke="#1a242d" stroke-width="0.95" stroke-linejoin="round" />
<polyline points="242.1,872.0 242.1,900.0" fill="none" stroke="#1a242d" stroke-width="0.95" stroke-linejoin="round" />
<polyline points="245.3,872.0 245.3,900.0" fill="none" stroke="#1a242d" stroke-width="0.95" stroke-linejoin="round" />
<polyline points="228.8,861.3 228.8,890.5" fill="none" stroke="#1a242d" stroke-width="0.9" stroke-linejoin="round" />
<polyline points="228.8,884.0 245.3,884.0" fill="none" stroke="#1a242d" stroke-width="0.95" stroke-linejoin="round" />
<text x="237.3" y="882.2" font-size="6.4" text-anchor="middle" fill="#1a242d" >15</text>
<polyline points="49.3,895.3 254.7,895.3" fill="none" stroke="#1a242d" stroke-width="0.95" stroke-linejoin="round" />
<text x="52.0" y="894.0" font-size="6.2" text-anchor="middle" fill="#1a242d" >t</text>
<text x="252.0" y="894.0" font-size="6.2" text-anchor="middle" fill="#1a242d" >t</text>
<text x="126.7" y="893.4" font-size="5.2" text-anchor="start" fill="#1a242d" textLength="30.6" lengthAdjust="spacingAndGlyphs">内部有効寸法</text>
<text x="162.0" y="893.6" font-size="6" text-anchor="start" fill="#1a242d" textLength="15.3" lengthAdjust="spacingAndGlyphs">W−2t</text>
<text x="405.7" y="512.5" font-size="8.6" text-anchor="middle" fill="#111" textLength="71.5" lengthAdjust="spacingAndGlyphs">AE−304フレーム</text>
<text x="406.7" y="521.0" font-size="5.8" text-anchor="middle" fill="#111" textLength="101" lengthAdjust="spacingAndGlyphs">(OS44−12−16∼OS149−43−33)</text>
<rect x="300.8" y="560.7" width="91.2" height="76.0" fill="#c6e8fa" stroke="none" stroke-width="0.8"/>
<rect x="392.0" y="570.0" width="73.0" height="58.5" fill="#c6e8fa" stroke="none" stroke-width="0.8"/>
<rect x="469.7" y="565.5" width="5.5" height="66.0" fill="#c6e8fa" stroke="none" stroke-width="0.8"/>
<rect x="477.5" y="564.0" width="8.5" height="68.0" fill="#c6e8fa" stroke="none" stroke-width="0.8"/>
<polyline points="392.0,560.7 300.8,560.7 300.8,636.7 392.0,636.7" fill="none" stroke="#1a242d" stroke-width="0.95" stroke-linejoin="round" />
<polygon points="322.0,636.7 335.0,636.7 334.0,641.5 323.0,641.5" fill="#c6e8fa" stroke="#1a242d" stroke-width="0.9" stroke-linejoin="round" />
<polyline points="392.0,560.3 468.5,560.3" fill="none" stroke="#1a242d" stroke-width="1.0" stroke-linejoin="round" />
<polyline points="392.0,562.6 468.5,562.6" fill="none" stroke="#1a242d" stroke-width="0.9" stroke-linejoin="round" />
<polyline points="392.0,565.4 466.0,565.4" fill="none" stroke="#1a242d" stroke-width="0.8" stroke-linejoin="round" />
<polyline points="392.0,636.6 468.5,636.6" fill="none" stroke="#1a242d" stroke-width="1.0" stroke-linejoin="round" />
<polyline points="392.0,634.2 453.0,634.2" fill="none" stroke="#1a242d" stroke-width="0.9" stroke-linejoin="round" />
<polyline points="392.0,631.3 466.0,631.3" fill="none" stroke="#1a242d" stroke-width="0.8" stroke-linejoin="round" />
<polyline points="392.0,628.8 466.0,628.8" fill="none" stroke="#1a242d" stroke-width="0.8" stroke-linejoin="round" />
<polyline points="392.0,553.3 392.0,644.0" fill="none" stroke="#1a242d" stroke-width="0.9" stroke-linejoin="round" stroke-dasharray="28 2 4 2"/>
<polyline points="426.0,569.5 461.0,569.5" fill="none" stroke="#1a242d" stroke-width="0.9" stroke-linejoin="round" />
<polyline points="426.0,627.8 461.0,627.8" fill="none" stroke="#1a242d" stroke-width="0.9" stroke-linejoin="round" />
<polyline points="442.0,566.0 442.0,570.0" fill="none" stroke="#1a242d" stroke-width="0.95" stroke-linejoin="round" />
<polyline points="442.0,627.0 442.0,631.0" fill="none" stroke="#1a242d" stroke-width="0.95" stroke-linejoin="round" />
<polyline points="446.0,566.0 446.0,570.0" fill="none" stroke="#1a242d" stroke-width="0.95" stroke-linejoin="round" />
<polyline points="446.0,627.0 446.0,631.0" fill="none" stroke="#1a242d" stroke-width="0.95" stroke-linejoin="round" />
<polyline points="455.0,566.0 455.0,570.0" fill="none" stroke="#1a242d" stroke-width="0.95" stroke-linejoin="round" />
<polyline points="455.0,627.0 455.0,631.0" fill="none" stroke="#1a242d" stroke-width="0.95" stroke-linejoin="round" />
<polyline points="458.0,566.0 458.0,570.0" fill="none" stroke="#1a242d" stroke-width="0.95" stroke-linejoin="round" />
<polyline points="458.0,627.0 458.0,631.0" fill="none" stroke="#1a242d" stroke-width="0.95" stroke-linejoin="round" />
<rect x="465.5" y="565.8" width="3.6" height="62.6" fill="#f4fafd" stroke="none" stroke-width="0.8"/>
<polyline points="464.7,565.4 464.7,628.8" fill="none" stroke="#1a242d" stroke-width="0.8" stroke-linejoin="round" />
<polyline points="466.7,562.6 466.7,631.3" fill="none" stroke="#1a242d" stroke-width="0.8" stroke-linejoin="round" />
<polyline points="468.3,563.8 468.3,631.8" fill="none" stroke="#1a242d" stroke-width="0.7" stroke-linejoin="round" />
<polyline points="469.7,563.8 469.7,631.8" fill="none" stroke="#1a242d" stroke-width="0.8" stroke-linejoin="round" />
<polyline points="475.2,565.5 475.2,631.8" fill="none" stroke="#1a242d" stroke-width="0.8" stroke-linejoin="round" />
<polyline points="477.5,565.5 477.5,631.8" fill="none" stroke="#1a242d" stroke-width="0.8" stroke-linejoin="round" />
<polyline points="486.2,549.0 486.2,673.3" fill="none" stroke="#1a242d" stroke-width="1.2" stroke-linejoin="round" />
<polygon points="468.5,560.4 486.0,560.4 486.0,563.8 478.0,563.8 474.5,566.2 470.5,563.8 468.5,563.8" fill="#b4b6b8" stroke="#1a242d" stroke-width="0.6" stroke-linejoin="round" />
<rect x="468.5" y="631.8" width="17.5" height="5.2" fill="#b4b6b8" stroke="#1a242d" stroke-width="0.6"/>
<polygon points="452.8,634.2 467.3,634.2 467.3,639.5 465.5,641.2 454.5,641.2 452.8,639.5" fill="#c6e8fa" stroke="#1a242d" stroke-width="0.9" stroke-linejoin="round" />
<polyline points="468.0,547.5 468.0,560.5" fill="none" stroke="#1a242d" stroke-width="0.95" stroke-linejoin="round" />
<polyline points="468.0,549.9 486.7,549.9" fill="none" stroke="#1a242d" stroke-width="0.95" stroke-linejoin="round" />
<text x="477.3" y="548.9" font-size="6.2" text-anchor="middle" fill="#1a242d" >17.5</text>
<polyline points="453.8,538.8 469.3,562.7" fill="none" stroke="#1a242d" stroke-width="0.95" stroke-linejoin="round" />
<circle cx="452.5" cy="536.5" r="3.1" fill="#fff" stroke="#3a444c" stroke-width="0.7"/>
<text x="452.5" y="538.3" font-size="5" text-anchor="middle" fill="#1a242d" >2</text>
<polyline points="486.7,564.8 520.0,564.8" fill="none" stroke="#1a242d" stroke-width="0.95" stroke-linejoin="round" />
<polyline points="486.7,633.3 520.0,633.3" fill="none" stroke="#1a242d" stroke-width="0.95" stroke-linejoin="round" />
<polyline points="516.5,564.8 516.5,633.3" fill="none" stroke="#1a242d" stroke-width="0.95" stroke-linejoin="round" />
<polyline points="477.3,568.0 508.0,568.0" fill="none" stroke="#1a242d" stroke-width="0.95" stroke-linejoin="round" />
<polyline points="477.3,629.3 508.0,629.3" fill="none" stroke="#1a242d" stroke-width="0.95" stroke-linejoin="round" />
<polyline points="504.0,568.0 504.0,629.3" fill="none" stroke="#1a242d" stroke-width="0.95" stroke-linejoin="round" />
<text x="502.7" y="600.6" font-size="6.3" text-anchor="middle" fill="#1a242d" transform="rotate(-90 502.7 600.6)" textLength="16.5" lengthAdjust="spacingAndGlyphs">H−12</text>
<text x="515.5" y="602.5" font-size="6.3" text-anchor="middle" fill="#1a242d" transform="rotate(-90 515.5 602.5)" textLength="11.5" lengthAdjust="spacingAndGlyphs">H−9</text>
<polyline points="477.3,578.1 538.3,574.9" fill="none" stroke="#1a242d" stroke-width="0.95" stroke-linejoin="round" />
<circle cx="541.0" cy="574.6" r="3.1" fill="#fff" stroke="#3a444c" stroke-width="0.7"/>
<text x="541.0" y="576.4" font-size="5" text-anchor="middle" fill="#1a242d" >3</text>
<polyline points="477.3,637.0 477.3,649.3" fill="none" stroke="#1a242d" stroke-width="0.9" stroke-linejoin="round" />
<polyline points="477.3,646.4 486.2,646.4" fill="none" stroke="#1a242d" stroke-width="0.9" stroke-linejoin="round" />
<text x="481.9" y="644.6" font-size="5.8" text-anchor="middle" fill="#1a242d" >8.9</text>
<polyline points="453.3,640.0 453.3,659.3" fill="none" stroke="#1a242d" stroke-width="0.9" stroke-linejoin="round" />
<polyline points="453.3,654.0 486.2,654.0" fill="none" stroke="#1a242d" stroke-width="0.9" stroke-linejoin="round" />
<text x="469.1" y="652.7" font-size="6.2" text-anchor="middle" fill="#1a242d" >30.5</text>
<text x="398.7" y="655.4" font-size="6" text-anchor="start" fill="#1a242d" textLength="28" lengthAdjust="spacingAndGlyphs">M3皿×16ℓ</text>
<polyline points="398.7,657.0 429.0,657.0 444.0,629.3" fill="none" stroke="#1a242d" stroke-width="0.9" stroke-linejoin="round" />
<polyline points="300.8,636.7 300.8,670.0" fill="none" stroke="#1a242d" stroke-width="0.95" stroke-linejoin="round" />
<polyline points="300.8,666.9 486.7,666.9" fill="none" stroke="#1a242d" stroke-width="0.95" stroke-linejoin="round" />
<text x="392.8" y="665.7" font-size="6.2" text-anchor="middle" fill="#1a242d" >D</text>
<polyline points="328.0,641.6 305.6,703.6 386.0,703.6" fill="none" stroke="#1a242d" stroke-width="0.95" stroke-linejoin="round" />
<text x="320.0" y="695.4" font-size="5.3" text-anchor="start" fill="#1a242d" textLength="47" lengthAdjust="spacingAndGlyphs">ハリ付ゴム足ですから</text>
<text x="320.0" y="701.8" font-size="5.3" text-anchor="start" fill="#1a242d" textLength="66" lengthAdjust="spacingAndGlyphs">任意の位置に貼付けできます。</text>
<text x="405.5" y="815.5" font-size="8.6" text-anchor="middle" fill="#111" textLength="71" lengthAdjust="spacingAndGlyphs">AE−303フレーム</text>
<text x="405.5" y="824.8" font-size="5.8" text-anchor="middle" fill="#111" textLength="106" lengthAdjust="spacingAndGlyphs">(OS149−43−43∼OS299−50−55)</text>
<rect x="338.7" y="855.2" width="92.5" height="76.8" fill="#c6e8fa" stroke="none" stroke-width="0.8"/>
<rect x="431.2" y="864.5" width="71.0" height="57.8" fill="#c6e8fa" stroke="none" stroke-width="0.8"/>
<rect x="504.4" y="860.8" width="6.0" height="66.0" fill="#c6e8fa" stroke="none" stroke-width="0.8"/>
<rect x="515.5" y="859.6" width="8.8" height="68.0" fill="#c6e8fa" stroke="none" stroke-width="0.8"/>
<polyline points="431.2,855.2 338.7,855.2 338.7,932.0 431.2,932.0" fill="none" stroke="#1a242d" stroke-width="0.95" stroke-linejoin="round" />
<polygon points="360.0,932.0 372.0,932.0 371.0,936.0 361.0,936.0" fill="#c6e8fa" stroke="#1a242d" stroke-width="0.9" stroke-linejoin="round" />
<polyline points="431.2,848.0 431.2,938.7" fill="none" stroke="#1a242d" stroke-width="0.9" stroke-linejoin="round" stroke-dasharray="28 2 4 2"/>
<polyline points="431.2,855.3 507.3,855.3" fill="none" stroke="#1a242d" stroke-width="1.0" stroke-linejoin="round" />
<polyline points="431.2,857.3 507.3,857.3" fill="none" stroke="#1a242d" stroke-width="0.9" stroke-linejoin="round" />
<polyline points="431.2,860.8 504.4,860.8" fill="none" stroke="#1a242d" stroke-width="0.8" stroke-linejoin="round" />
<polyline points="431.2,931.6 507.3,931.6" fill="none" stroke="#1a242d" stroke-width="1.0" stroke-linejoin="round" />
<polyline points="431.2,929.6 492.0,929.6" fill="none" stroke="#1a242d" stroke-width="0.9" stroke-linejoin="round" />
<polyline points="431.2,926.1 504.4,926.1" fill="none" stroke="#1a242d" stroke-width="0.8" stroke-linejoin="round" />
<polyline points="431.2,864.5 502.1,864.5" fill="none" stroke="#1a242d" stroke-width="0.7" stroke-linejoin="round" />
<polyline points="431.2,922.4 502.1,922.4" fill="none" stroke="#1a242d" stroke-width="0.7" stroke-linejoin="round" />
<polyline points="464.0,861.5 499.0,861.5" fill="none" stroke="#1a242d" stroke-width="0.9" stroke-linejoin="round" />
<polyline points="464.0,925.2 499.0,925.2" fill="none" stroke="#1a242d" stroke-width="0.9" stroke-linejoin="round" />
<polyline points="481.0,860.8 481.0,865.0" fill="none" stroke="#1a242d" stroke-width="0.9" stroke-linejoin="round" />
<polyline points="481.0,922.0 481.0,926.1" fill="none" stroke="#1a242d" stroke-width="0.9" stroke-linejoin="round" />
<polyline points="483.0,860.8 483.0,865.0" fill="none" stroke="#1a242d" stroke-width="0.9" stroke-linejoin="round" />
<polyline points="483.0,922.0 483.0,926.1" fill="none" stroke="#1a242d" stroke-width="0.9" stroke-linejoin="round" />
<polyline points="493.5,860.8 493.5,865.0" fill="none" stroke="#1a242d" stroke-width="0.9" stroke-linejoin="round" />
<polyline points="493.5,922.0 493.5,926.1" fill="none" stroke="#1a242d" stroke-width="0.9" stroke-linejoin="round" />
<polyline points="495.5,860.8 495.5,865.0" fill="none" stroke="#1a242d" stroke-width="0.9" stroke-linejoin="round" />
<polyline points="495.5,922.0 495.5,926.1" fill="none" stroke="#1a242d" stroke-width="0.9" stroke-linejoin="round" />
<polyline points="500.0,860.8 500.0,865.0" fill="none" stroke="#1a242d" stroke-width="0.9" stroke-linejoin="round" />
<polyline points="500.0,922.0 500.0,926.1" fill="none" stroke="#1a242d" stroke-width="0.9" stroke-linejoin="round" />
<polyline points="502.1,860.8 502.1,926.1" fill="none" stroke="#1a242d" stroke-width="0.8" stroke-linejoin="round" />
<polyline points="504.4,860.8 504.4,926.1" fill="none" stroke="#1a242d" stroke-width="0.8" stroke-linejoin="round" />
<polyline points="507.3,857.3 507.3,929.6" fill="none" stroke="#1a242d" stroke-width="0.8" stroke-linejoin="round" />
<polyline points="513.8,860.0 513.8,927.0" fill="none" stroke="#1a242d" stroke-width="0.8" stroke-linejoin="round" />
<polyline points="515.5,860.0 515.5,927.0" fill="none" stroke="#1a242d" stroke-width="0.8" stroke-linejoin="round" />
<polyline points="524.4,843.0 524.4,968.0" fill="none" stroke="#1a242d" stroke-width="1.2" stroke-linejoin="round" />
<path d="M507.3,855.4 H524.3 V859.6 H512.6 V874.2 H510.3 V860.2 H507.3 Z" fill="#b4b6b8" stroke="#1a242d" stroke-width="0.6"/>
<path d="M507.3,931.6 H524.3 V927.4 H512.6 V912.8 H510.3 V926.8 H507.3 Z" fill="#b4b6b8" stroke="#1a242d" stroke-width="0.6"/>
<polygon points="490.7,929.6 504.8,929.6 504.8,934.5 503.0,936.0 493.0,936.0 492.3,933.5 490.7,933.5" fill="#c6e8fa" stroke="#1a242d" stroke-width="0.9" stroke-linejoin="round" />
<polyline points="313.3,855.2 336.0,855.2" fill="none" stroke="#1a242d" stroke-width="0.95" stroke-linejoin="round" />
<polyline points="313.3,932.0 336.0,932.0" fill="none" stroke="#1a242d" stroke-width="0.95" stroke-linejoin="round" />
<polyline points="320.0,855.2 320.0,932.0" fill="none" stroke="#1a242d" stroke-width="0.95" stroke-linejoin="round" />
<text x="317.7" y="894.7" font-size="6.3" text-anchor="middle" fill="#1a242d" transform="rotate(-90 317.7 894.7)" >H</text>
<polyline points="338.7,932.0 338.7,968.5" fill="none" stroke="#1a242d" stroke-width="0.9" stroke-linejoin="round" />
<polyline points="338.7,961.2 524.4,961.2" fill="none" stroke="#1a242d" stroke-width="0.95" stroke-linejoin="round" />
<text x="431.2" y="959.5" font-size="6.2" text-anchor="middle" fill="#1a242d" >D</text>
<polyline points="505.6,841.0 505.6,854.5" fill="none" stroke="#1a242d" stroke-width="0.9" stroke-linejoin="round" />
<polyline points="505.6,845.6 524.4,845.6" fill="none" stroke="#1a242d" stroke-width="0.9" stroke-linejoin="round" />
<text x="515.3" y="844.0" font-size="6.2" text-anchor="middle" fill="#1a242d" >17.5</text>
<polyline points="491.3,817.4 509.3,857.3" fill="none" stroke="#1a242d" stroke-width="0.95" stroke-linejoin="round" />
<circle cx="490.0" cy="815.0" r="3.1" fill="#fff" stroke="#3a444c" stroke-width="0.7"/>
<text x="490.0" y="816.8" font-size="5" text-anchor="middle" fill="#1a242d" >2</text>
<polyline points="514.7,881.9 567.3,871.3" fill="none" stroke="#1a242d" stroke-width="0.95" stroke-linejoin="round" />
<circle cx="569.9" cy="870.7" r="3.1" fill="#fff" stroke="#3a444c" stroke-width="0.7"/>
<text x="569.9" y="872.5" font-size="5" text-anchor="middle" fill="#1a242d" >3</text>
<polyline points="524.4,860.0 558.7,860.0" fill="none" stroke="#1a242d" stroke-width="0.95" stroke-linejoin="round" />
<polyline points="524.4,928.0 558.7,928.0" fill="none" stroke="#1a242d" stroke-width="0.95" stroke-linejoin="round" />
<polyline points="556.0,860.0 556.0,928.0" fill="none" stroke="#1a242d" stroke-width="0.95" stroke-linejoin="round" />
<polyline points="516.0,862.7 546.7,862.7" fill="none" stroke="#1a242d" stroke-width="0.95" stroke-linejoin="round" />
<polyline points="516.0,925.3 546.7,925.3" fill="none" stroke="#1a242d" stroke-width="0.95" stroke-linejoin="round" />
<polyline points="542.7,862.7 542.7,925.3" fill="none" stroke="#1a242d" stroke-width="0.95" stroke-linejoin="round" />
<polyline points="516.0,874.7 536.0,874.7" fill="none" stroke="#1a242d" stroke-width="0.95" stroke-linejoin="round" />
<polyline points="516.0,913.3 536.0,913.3" fill="none" stroke="#1a242d" stroke-width="0.95" stroke-linejoin="round" />
<polyline points="533.3,860.0 533.3,913.3" fill="none" stroke="#1a242d" stroke-width="0.95" stroke-linejoin="round" />
<text x="530.2" y="867.7" font-size="6" text-anchor="middle" fill="#1a242d" transform="rotate(-90 530.2 867.7)" >10</text>
<text x="531.0" y="896.6" font-size="6" text-anchor="middle" fill="#1a242d" transform="rotate(-90 531.0 896.6)" textLength="15" lengthAdjust="spacingAndGlyphs">H−32</text>
<text x="540.9" y="896.6" font-size="6" text-anchor="middle" fill="#1a242d" transform="rotate(-90 540.9 896.6)" textLength="15" lengthAdjust="spacingAndGlyphs">H−12</text>
<text x="552.9" y="897.3" font-size="6" text-anchor="middle" fill="#1a242d" transform="rotate(-90 552.9 897.3)" textLength="11" lengthAdjust="spacingAndGlyphs">H−7</text>
<polyline points="516.0,931.5 516.0,941.3" fill="none" stroke="#1a242d" stroke-width="0.95" stroke-linejoin="round" />
<polyline points="516.0,939.6 524.4,939.6" fill="none" stroke="#1a242d" stroke-width="0.95" stroke-linejoin="round" />
<text x="520.6" y="938.2" font-size="5.8" text-anchor="middle" fill="#1a242d" >8.9</text>
<polyline points="492.5,936.0 492.5,949.5" fill="none" stroke="#1a242d" stroke-width="0.95" stroke-linejoin="round" />
<polyline points="492.5,947.5 524.4,947.5" fill="none" stroke="#1a242d" stroke-width="0.95" stroke-linejoin="round" />
<text x="508.0" y="946.2" font-size="6.2" text-anchor="middle" fill="#1a242d" >30.5</text>
<text x="437.3" y="950.6" font-size="6" text-anchor="start" fill="#1a242d" textLength="27" lengthAdjust="spacingAndGlyphs">M3皿×16ℓ</text>
<polyline points="437.3,952.0 466.5,952.0 481.9,925.3" fill="none" stroke="#1a242d" stroke-width="0.9" stroke-linejoin="round" />
<circle cx="50.2" cy="941.2" r="2.2" fill="#d8262c" stroke="none" stroke-width="0.8"/>
<text x="53.5" y="944.8" font-size="8.3" text-anchor="start" fill="#111" textLength="219" lengthAdjust="spacingAndGlyphs">シャーシ取付時の高さ有効寸法は、H−29と合わせるとなります。</text>
<circle cx="50.2" cy="956.2" r="2.2" fill="#d8262c" stroke="none" stroke-width="0.8"/>
<text x="53.5" y="959.8" font-size="8.3" text-anchor="start" fill="#111" textLength="151.5" lengthAdjust="spacingAndGlyphs">t寸法はカタログ3−43Pの側板を参照下さい。</text>
</svg>
</body></html>
